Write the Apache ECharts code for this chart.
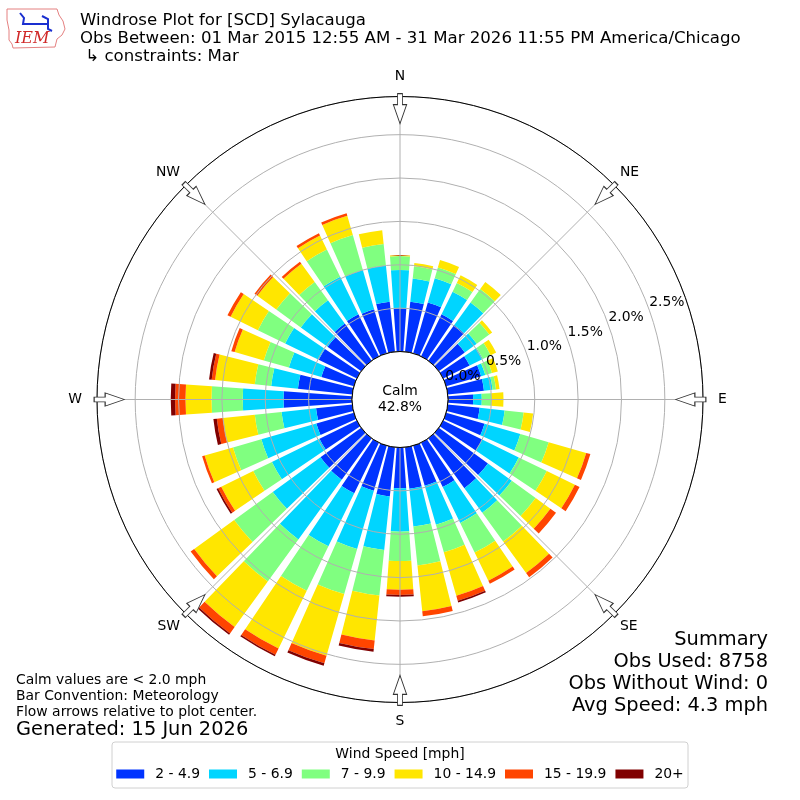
<!DOCTYPE html>
<html>
<head>
<meta charset="utf-8">
<script src="https://cdn.jsdelivr.net/npm/echarts@6/dist/echarts.min.js"></script>
<style>
  html, body { margin: 0; padding: 0; background: #fff; }
  #chart { width: 800px; height: 800px; }
</style>
</head>
<body>
<div id="chart"></div>
<script>
/* Windrose for SCD (Sylacauga), March obs, 36 direction bins x 6 speed bins.
   Values are percent of all obs. */

const DIRECTIONS = ['0', '10', '20', '30', '40', '50', '60', '70', '80', '90',
  '100', '110', '120', '130', '140', '150', '160', '170', '180', '190',
  '200', '210', '220', '230', '240', '250', '260', '270', '280', '290',
  '300', '310', '320', '330', '340', '350'];

const SPEED_BINS = ['2 - 4.9', '5 - 6.9', '7 - 9.9', '10 - 14.9', '15 - 19.9', '20+'];

const PCT_2_5 = [0.50, 0.58, 0.61, 0.54, 0.51, 0.37, 0.34, 0.42, 0.42, 0.29,
  0.37, 0.46, 0.50, 0.70, 0.71, 0.57, 0.48, 0.48, 0.47, 0.57,
  0.54, 0.65, 0.59, 0.58, 0.48, 0.45, 0.42, 0.79, 0.63, 0.39,
  0.49, 0.48, 0.53, 0.54, 0.53, 0.58];
const PCT_5_7 = [0.44, 0.27, 0.29, 0.29, 0.32, 0.17, 0.17, 0.05, 0.10, 0.10,
  0.29, 0.43, 0.47, 0.34, 0.35, 0.46, 0.47, 0.44, 0.50, 0.62,
  0.70, 0.68, 0.85, 0.68, 0.61, 0.66, 0.40, 0.47, 0.31, 0.39,
  0.43, 0.38, 0.33, 0.48, 0.47, 0.42];
const PCT_7_10 = [0.16, 0.14, 0.13, 0.11, 0.19, 0.18, 0.10, 0.08, 0.04, 0.11,
  0.22, 0.34, 0.36, 0.34, 0.41, 0.38, 0.33, 0.45, 0.34, 0.53,
  0.54, 0.57, 0.60, 0.55, 0.24, 0.34, 0.31, 0.36, 0.19, 0.30,
  0.35, 0.35, 0.26, 0.35, 0.42, 0.25];
const PCT_10_15 = [0.01, 0.04, 0.09, 0.10, 0.10, 0.04, 0.07, 0.07, 0.04, 0.14,
  0.11, 0.45, 0.36, 0.21, 0.45, 0.36, 0.52, 0.53, 0.33, 0.52,
  0.74, 0.74, 0.65, 0.57, 0.41, 0.34, 0.37, 0.30, 0.46, 0.35,
  0.35, 0.27, 0.26, 0.18, 0.23, 0.16];
const PCT_15_20 = [0, 0, 0, 0, 0, 0, 0, 0, 0, 0,
  0, 0.05, 0.06, 0.08, 0.06, 0.04, 0.06, 0.06, 0.06, 0.10,
  0.09, 0.08, 0.09, 0.05, 0.04, 0.03, 0.07, 0.12, 0.04, 0.04,
  0.04, 0.04, 0.03, 0.03, 0.03, 0];
const PCT_20_UP = [0, 0, 0, 0, 0, 0, 0, 0, 0, 0,
  0, 0, 0, 0, 0, 0, 0.02, 0, 0.02, 0.03,
  0.03, 0.02, 0.02, 0, 0.02, 0, 0.04, 0.05, 0.03, 0,
  0, 0, 0, 0, 0, 0];

const CALM_PCT = 42.8;
const COMPASS = ['N', 'NE', 'E', 'SE', 'S', 'SW', 'W', 'NW'];
const COMPASS_DEG = [0, 45, 90, 135, 180, 225, 270, 315];
const TITLE_LINES = ['Windrose Plot for [SCD] Sylacauga',
  'Obs Between: 01 Mar 2015 12:55 AM - 31 Mar 2026 11:55 PM America/Chicago',
  ' \u21b3 constraints: Mar'];
const NOTE_LINES = ['Calm values are < 2.0 mph', 'Bar Convention: Meteorology',
  'Flow arrows relative to plot center.'];
const GENERATED = 'Generated: 15 Jun 2026';
const SUMMARY_LINES = ['Summary', 'Obs Used: 8758', 'Obs Without Wind: 0', 'Avg Speed: 4.3 mph'];

const COLORS = ['#0033ff', '#00d5ff', '#80ff80', '#ffe600', '#ff4500', '#800000'];
const FONT = 'DejaVu Sans';
const GRID = '#b0b0b0';
const R_MAX = 2.94;          // radial extent of the plot, percent
const ARROW_R = 2.80;        // where the compass arrows sit
const CENTER = [400, 399.5];
const RADII = [48, 303];
const ARROW_PATH = 'path://M6.35,0 L13.65,0 L13.65,11 L20,11 L10,30 L0,11 L6.35,11 Z';
// rich-text style key per compass label, nudges labels onto one circle
const COMPASS_STYLE = ['n', 'd', 'e', 'd', 's', 'd', 'w', 'd'];

const BIN_DATA = [PCT_2_5, PCT_5_7, PCT_7_10, PCT_10_15, PCT_15_20, PCT_20_UP];

const el = document.getElementById('chart');
const chart = echarts.init(el, null, { renderer: 'canvas' });

function txt(x, y, text, size, align) {
  return {
    type: 'text', x, y, z: 30,
    style: {
      text, fontSize: size, fontFamily: FONT, fill: '#000',
      align: align || 'left', verticalAlign: 'middle',
    },
  };
}

const graphics = [];
// IEM logo (rough sketch)
graphics.push({
  type: 'polygon', z: 30,
  shape: { points: [[7, 9], [57, 9], [59, 15], [63, 21], [65, 29], [62, 35], [57, 39],
    [55, 47], [13, 48], [12, 44], [9, 40], [9, 30], [7, 20]] },
  style: { fill: '#fff', stroke: '#e48080', lineWidth: 1 },
});
graphics.push({
  type: 'polyline', z: 31,
  shape: { points: [[20, 13], [24, 18], [23, 24], [48, 24]] },
  style: { stroke: '#1a2fd0', lineWidth: 2, fill: null },
});
graphics.push({
  type: 'polyline', z: 31,
  shape: { points: [[42, 16], [48, 19], [48, 29], [52, 31]] },
  style: { stroke: '#1a2fd0', lineWidth: 2, fill: null },
});
graphics.push({
  type: 'text', x: 15, y: 39, z: 31,
  style: { text: 'IEM', fontSize: 16, fontStyle: 'italic', fontFamily: 'DejaVu Serif',
    fill: '#d02828', align: 'left', verticalAlign: 'middle' },
});

TITLE_LINES.forEach((t, i) => graphics.push(txt(80, 20.5 + i * 18.3, t, 16.6)));
NOTE_LINES.forEach((t, i) => graphics.push(txt(16, 680 + i * 16, t, 13.9)));
graphics.push(txt(16, 730, GENERATED, 19.4));
SUMMARY_LINES.forEach((t, i) => graphics.push(txt(768, 640 + i * 22, t, 19.4, 'right')));

// legend frame + title
graphics.push({
  type: 'rect', z: 1,
  shape: { x: 112, y: 742, width: 576, height: 46, r: 3 },
  style: { fill: '#fff', stroke: '#d0d0d0', lineWidth: 1 },
});
graphics.push(txt(400, 754, 'Wind Speed [mph]', 13.9, 'center'));

const series = BIN_DATA.map((vals, i) => ({
  type: 'bar', name: SPEED_BINS[i], coordinateSystem: 'polar', polarIndex: 0,
  stack: 'speed', data: vals, barCategoryGap: '20%', silent: true, z: 2,
  itemStyle: { color: COLORS[i] },
}));

series.push({
  type: 'scatter', coordinateSystem: 'polar', polarIndex: 1, silent: true, z: 15,
  symbol: ARROW_PATH, symbolSize: [20, 30], symbolKeepAspect: true,
  itemStyle: { color: '#fff', borderColor: '#333', borderWidth: 1, opacity: 1 },
  data: COMPASS_DEG.map((d) => ({ value: [ARROW_R, d], symbolRotate: -d })),
});

series.push({
  type: 'pie', center: CENTER, radius: [0, RADII[0]], silent: true, z: 20,
  itemStyle: { color: '#fff', borderColor: '#000', borderWidth: 1 },
  label: {
    show: true, position: 'center', color: '#000', fontSize: 13.9,
    fontFamily: FONT, lineHeight: 16,
    formatter: () => 'Calm\n' + CALM_PCT.toFixed(1) + '%',
  },
  labelLine: { show: false },
  emphasis: { disabled: true },
  data: [{ value: CALM_PCT, name: 'Calm' }],
});

const labelRich = {
  n: { padding: [0, 0, 5, 0] },
  s: { padding: [4, 0, 0, 0] },
  e: { padding: [0, 0, 0, 7] },
  w: { padding: [0, 7, 0, 0] },
  d: {},
};

chart.setOption({
  animation: false,
  textStyle: { fontFamily: FONT },
  polar: [
    { center: CENTER, radius: RADII },
    { center: CENTER, radius: RADII },
    { center: CENTER, radius: RADII },
  ],
  angleAxis: [
    {
      polarIndex: 0, type: 'category', data: DIRECTIONS, startAngle: 95, clockwise: true,
      axisLine: { show: false }, axisTick: { show: false },
      axisLabel: { show: false }, splitLine: { show: false },
    },
    {
      polarIndex: 1, type: 'value', min: 0, max: 360, interval: 45,
      startAngle: 90, clockwise: true, z: 10,
      axisLine: { show: false }, axisTick: { show: false },
      axisLabel: {
        margin: 8, color: '#000', fontSize: 13.9, fontFamily: FONT,
        formatter: (v) => {
          const i = Math.round(v / 45) % 8;
          return '{' + COMPASS_STYLE[i] + '|' + COMPASS[i] + '}';
        },
        rich: labelRich,
      },
      splitLine: { show: true, lineStyle: { color: GRID, width: 1 } },
    },
    {
      polarIndex: 2, type: 'value', min: 0, max: 360, startAngle: 19.8, z: 12,
      axisLine: { show: true, lineStyle: { color: '#000', width: 1 } },
      axisTick: { show: false }, axisLabel: { show: false }, splitLine: { show: false },
    },
  ],
  radiusAxis: [
    { polarIndex: 0, type: 'value', min: 0, max: R_MAX, show: false },
    {
      polarIndex: 1, type: 'value', min: 0, max: R_MAX, interval: 0.5, z: 10,
      axisLine: { show: false }, axisTick: { show: false }, axisLabel: { show: false },
      splitLine: { show: true, lineStyle: { color: GRID, width: 1 } },
    },
    {
      polarIndex: 2, type: 'value', min: 0, max: R_MAX, interval: 0.5, z: 13,
      axisLine: { show: false }, axisTick: { show: false }, splitLine: { show: false },
      axisLabel: {
        show: true, margin: 0, align: 'left', verticalAlign: 'bottom',
        color: '#000', fontSize: 13.9, fontFamily: FONT,
        formatter: (v) => (Math.abs(v * 2 - Math.round(v * 2)) < 1e-6 ? v.toFixed(1) + '%' : ''),
      },
    },
  ],
  legend: {
    data: SPEED_BINS, left: 'center', top: 767, padding: 0,
    itemWidth: 28, itemHeight: 9, itemGap: 9, icon: 'rect', selectedMode: false,
    textStyle: { fontSize: 13.9, fontFamily: FONT, color: '#000', padding: [0, 0, 0, 6] },
  },
  graphic: graphics,
  series,
});
</script>
</body>
</html>
